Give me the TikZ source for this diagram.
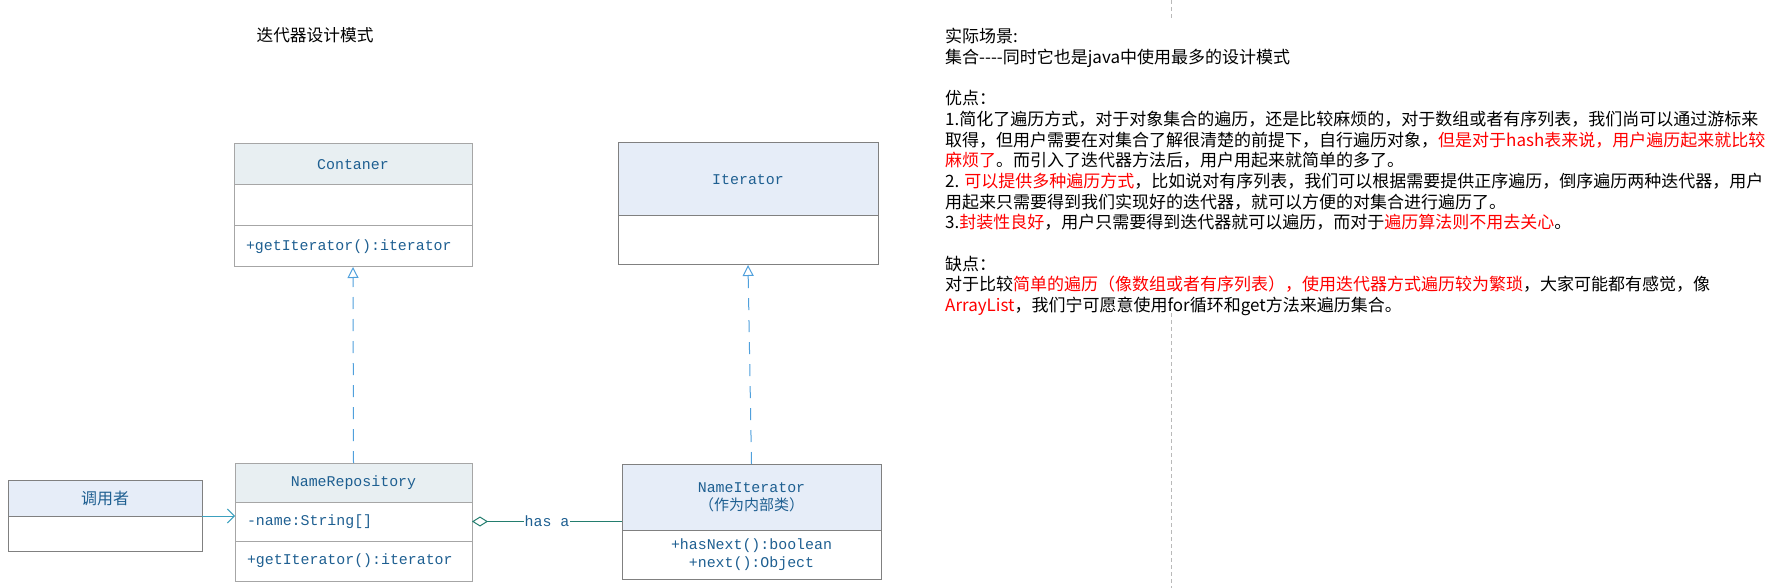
\documentclass[tikz,border=0pt]{standalone}
\usepackage{fontspec}
\setmonofont{Liberation Mono}
\newfontfamily\cjk{Noto Sans CJK SC}
\usetikzlibrary{arrows.meta, positioning}
\definecolor{umltext}{RGB}{30,95,145}
\definecolor{hdrgray}{RGB}{232,239,242}
\definecolor{hdrblue}{RGB}{230,237,248}
\definecolor{realblue}{RGB}{80,160,220}
\definecolor{callteal}{RGB}{60,160,190}
\definecolor{aggrteal}{RGB}{35,125,110}
\newcommand{\redtxt}[1]{\textcolor{red}{#1}}
\tikzset{
    part/.style={draw=gray!70, line width=1pt, inner sep=0pt, outer sep=0pt, text=umltext,
        font=\ttfamily\fontsize{14.9}{18}\selectfont},
    partb/.style={part, draw=gray},
    hdr/.style={part, fill=hdrgray},
    hdrb/.style={partb, fill=hdrblue},
    realize/.style={-{Triangle[open, length=11pt, width=11pt]}, realblue, line width=1pt,
        dash pattern=on 12pt off 10pt},
    call/.style={-{Straight Barb[length=7pt, width=14pt]}, callteal, line width=1pt},
    aggr/.style={{Diamond[open, length=16pt, width=10pt]}-, aggrteal, line width=1pt},
    divider/.style={gray!55, line width=1pt, dash pattern=on 4pt off 3pt},
    note/.style={inner sep=0pt, align=left, font=\cjk\fontsize{17}{20.7}\selectfont}
}

\begin{document}
\begin{tikzpicture}[x=1pt, y=-1pt]
    \useasboundingbox (0,0) rectangle (1773,588);

    % 标题
    \node[font=\cjk\fontsize{16.7}{20}\selectfont] (title) at (315,35) {迭代器设计模式};

    % Contaner
    \node[hdr, minimum width=238pt, minimum height=41pt, anchor=north west] (conthead) at (234,144) {Contaner};
    \node[part, minimum width=238pt, minimum height=41pt, below=0pt of conthead] (contattr) {};
    \node[part, text width=214pt, inner xsep=12pt, minimum height=41pt, align=left, below=0pt of contattr] (contops) {+getIterator():iterator};

    % Iterator
    \node[hdrb, minimum width=260pt, minimum height=73pt, anchor=north west] (ithead) at (618,143) {Iterator};
    \node[partb, minimum width=260pt, minimum height=49pt, below=0pt of ithead] (itbody) {};

    % 调用者
    \node[hdrb, font=\cjk\fontsize{16}{18}\selectfont, minimum width=194pt, minimum height=36pt, anchor=north west] (callhead) at (8,480) {调用者};
    \node[partb, minimum width=194pt, minimum height=35pt, below=0pt of callhead] (callbody) {};

    % NameRepository
    \node[hdr, minimum width=237pt, minimum height=39pt, anchor=north west] (nrhead) at (235,463) {NameRepository};
    \node[part, text width=213pt, inner xsep=12pt, minimum height=39pt, align=left, below=0pt of nrhead] (nrattr) {-name:String[]};
    \node[part, text width=213pt, inner xsep=12pt, minimum height=40pt, align=left, below=0pt of nrattr] (nrops) {+getIterator():iterator};

    % NameIterator
    \node[hdrb, align=center, minimum width=259pt, minimum height=66pt, anchor=north west] (nihead) at (622,464)
        {NameIterator\\{\cjk\fontsize{15}{18}\selectfont （作为内部类）}};
    \node[partb, align=center, minimum width=259pt, minimum height=49pt, below=0pt of nihead] (nibody)
        {+hasNext():boolean\\+next():Object};

    % 连线
    \draw[realize] (nrhead.north) -- (contops.south);
    \draw[realize] (nihead.north) -- (itbody.south);
    \draw[call] (callhead.south east) -- (callhead.south east -| nrattr.west);
    \draw[aggr] (nrattr.east) -- (nrattr.east -| nihead.west)
        node[midway, fill=white, inner sep=1pt, text=umltext, font=\ttfamily\fontsize{14.9}{18}\selectfont] (hasa) {has a};

    % 分隔线
    \coordinate (d1) at (1171,0);
    \coordinate (d2) at (1171,20);
    \coordinate (d3) at (1171,313);
    \coordinate (d4) at (1171,588);
    \draw[divider] (d1) -- (d2) (d3) -- (d4);

    % 说明
    \node[note, anchor=north west] (notes) at (945,28) {实际场景:\\
        集合----同时它也是java中使用最多的设计模式\\[20.7pt]
        优点：\\
        1.简化了遍历方式，对于对象集合的遍历，还是比较麻烦的，对于数组或者有序列表，我们尚可以通过游标来\\
        取得，但用户需要在对集合了解很清楚的前提下，自行遍历对象，\redtxt{但是对于hash表来说，用户遍历起来就比较}\\
        \redtxt{麻烦了}。而引入了迭代器方法后，用户用起来就简单的多了。\\
        2. \redtxt{可以提供多种遍历方式}，比如说对有序列表，我们可以根据需要提供正序遍历，倒序遍历两种迭代器，用户\\
        用起来只需要得到我们实现好的迭代器，就可以方便的对集合进行遍历了。\\
        3.\redtxt{封装性良好}，用户只需要得到迭代器就可以遍历，而对于\redtxt{遍历算法则不用去关心}。\\[20.7pt]
        缺点：\\
        对于比较\redtxt{简单的遍历（像数组或者有序列表），使用迭代器方式遍历较为繁琐}，大家可能都有感觉，像\\
        \redtxt{ArrayList}，我们宁可愿意使用for循环和get方法来遍历集合。};
\end{tikzpicture}
\end{document}
